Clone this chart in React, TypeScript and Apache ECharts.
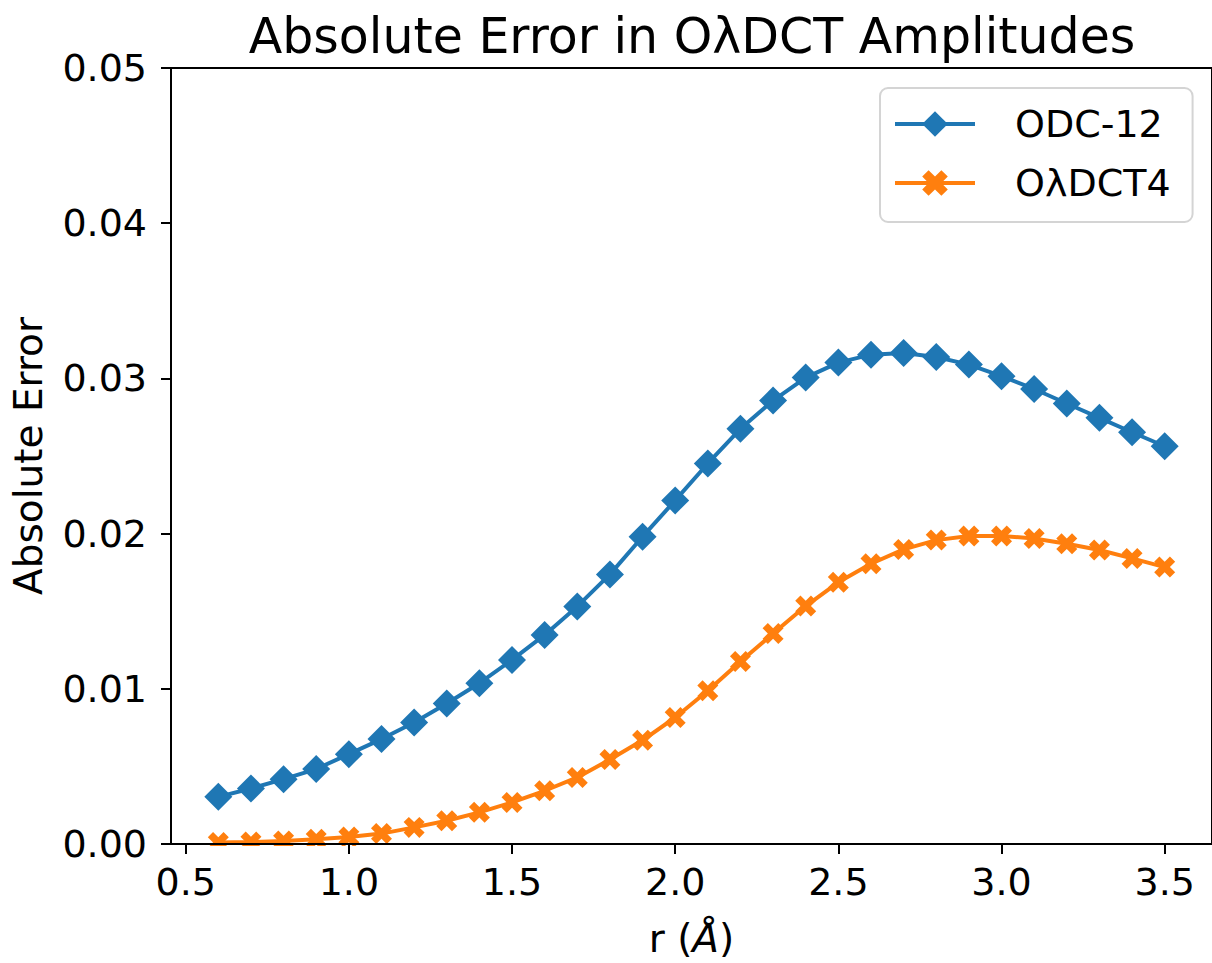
import React, { useEffect, useRef } from "react";
import * as echarts from "echarts";

const rValues = [0.6, 0.7, 0.8, 0.9, 1.0, 1.1, 1.2, 1.3, 1.4, 1.5, 1.6, 1.7, 1.8, 1.9, 2.0, 2.1, 2.2, 2.3, 2.4, 2.5, 2.6, 2.7, 2.8, 2.9, 3.0, 3.1, 3.2, 3.3, 3.4, 3.5];
const odc12 = [0.00304, 0.00358, 0.00418, 0.00483, 0.00579, 0.00676, 0.00783, 0.00905, 0.01036, 0.01186, 0.01347, 0.01531, 0.01737, 0.0198, 0.02214, 0.02452, 0.02675, 0.02857, 0.03005, 0.03102, 0.03153, 0.03164, 0.03138, 0.03089, 0.03014, 0.02932, 0.02838, 0.02746, 0.02653, 0.02563];
const oldct4 = [0.00009, 0.00013, 0.0002, 0.0003, 0.00045, 0.00067, 0.00107, 0.0015, 0.00204, 0.00268, 0.00343, 0.00429, 0.00544, 0.00668, 0.00815, 0.00987, 0.01176, 0.01356, 0.01533, 0.01686, 0.01806, 0.01898, 0.01958, 0.01984, 0.01984, 0.01969, 0.01935, 0.01894, 0.0184, 0.01784];
const xTicks = [0.5, 1.0, 1.5, 2.0, 2.5, 3.0, 3.5];
const seriesNames = ["ODC-12", "O\u03bbDCT4"];
const titleText = "Absolute Error in O\u03bbDCT Amplitudes";

const FONT = "DejaVu Sans";
const X_SYMBOL = "path://M42.4 0L28.3 14.1L14.1 0L0 14.1L14.1 28.3L0 42.4L14.1 56.6L28.3 42.4L42.4 56.6L56.6 42.4L42.4 28.3L56.6 14.1Z";

export default function App() {
  const ref = useRef<HTMLDivElement>(null);
  useEffect(() => {
    if (!ref.current) return;
    const chart = echarts.init(ref.current, undefined, { renderer: "svg" });
    const gridLeft = 171, gridTop = 68, gridW = 1042, gridH = 777;
    chart.setOption({
      animation: false,
      backgroundColor: "#ffffff",
      grid: {
        left: gridLeft, top: gridTop, width: gridW, height: gridH,
        show: true, borderColor: "#000", borderWidth: 2, backgroundColor: "transparent",
      },
      graphic: [
        {
          type: "text", x: gridLeft + gridW / 2, y: 36, z: 10,
          style: { text: titleText, fontSize: 49, fontFamily: FONT, fill: "#000", align: "center", verticalAlign: "middle" },
        },
        {
          type: "rect", z: 3, silent: true,
          shape: { x: gridLeft + 2, y: gridTop + gridH + 1, width: gridW, height: 16 },
          style: { fill: "#ffffff" },
        },
      ],
      legend: {
        orient: "vertical", left: 880, top: 88,
        padding: [16, 22, 19, 13],
        itemWidth: 80, itemHeight: 32, itemGap: 19,
        borderColor: "#d4d4d4", borderWidth: 2, borderRadius: 8,
        backgroundColor: "rgba(255,255,255,0.8)",
        lineStyle: { width: 4 },
        textStyle: { fontSize: 38, fontFamily: FONT, color: "#000", lineHeight: 40, padding: [0, 0, 0, 35] },
        data: seriesNames,
      },
      xAxis: {
        type: "value", min: 0.455, max: 3.645, z: 10,
        name: "r ({i|\u00c5})",
        nameLocation: "middle", nameGap: 75,
        nameTextStyle: {
          fontSize: 39, fontFamily: FONT, color: "#000",
          rich: { i: { fontSize: 39, fontFamily: FONT, color: "#000", fontStyle: "italic" } },
        },
        axisLine: { show: true, onZero: false, lineStyle: { color: "#000", width: 2 } },
        axisTick: { show: true, length: 10, lineStyle: { color: "#000", width: 2 }, customValues: xTicks },
        axisLabel: {
          fontSize: 38, fontFamily: FONT, color: "#000", margin: 19,
          customValues: xTicks,
          formatter: (v: number) => v.toFixed(1),
        },
        splitLine: { show: false },
      },
      yAxis: {
        type: "value", min: 0, max: 0.05, interval: 0.01, z: 10,
        name: "Absolute Error",
        nameLocation: "middle", nameGap: 123,
        nameTextStyle: { fontSize: 39, fontFamily: FONT, color: "#000" },
        axisLine: { show: true, lineStyle: { color: "#000", width: 2 } },
        axisTick: { show: true, length: 10, lineStyle: { color: "#000", width: 2 } },
        axisLabel: {
          fontSize: 38, fontFamily: FONT, color: "#000", margin: 24,
          formatter: (v: number) => v.toFixed(2),
        },
        splitLine: { show: false },
      },
      series: [
        {
          name: seriesNames[0], type: "line", z: 2,
          data: rValues.map((r, i) => [r, odc12[i]]),
          symbol: "diamond", symbolSize: 28,
          itemStyle: { color: "#1f77b4" },
          lineStyle: { color: "#1f77b4", width: 4 },
        },
        {
          name: seriesNames[1], type: "line", z: 2,
          data: rValues.map((r, i) => [r, oldct4[i]]),
          symbol: X_SYMBOL, symbolSize: 21,
          itemStyle: { color: "#ff7f0e" },
          lineStyle: { color: "#ff7f0e", width: 4 },
        },
      ],
    });
    return () => chart.dispose();
  }, []);
  return <div ref={ref} style={{ position: "absolute", left: 0, top: 0, width: 1212, height: 963 }} />;
}
